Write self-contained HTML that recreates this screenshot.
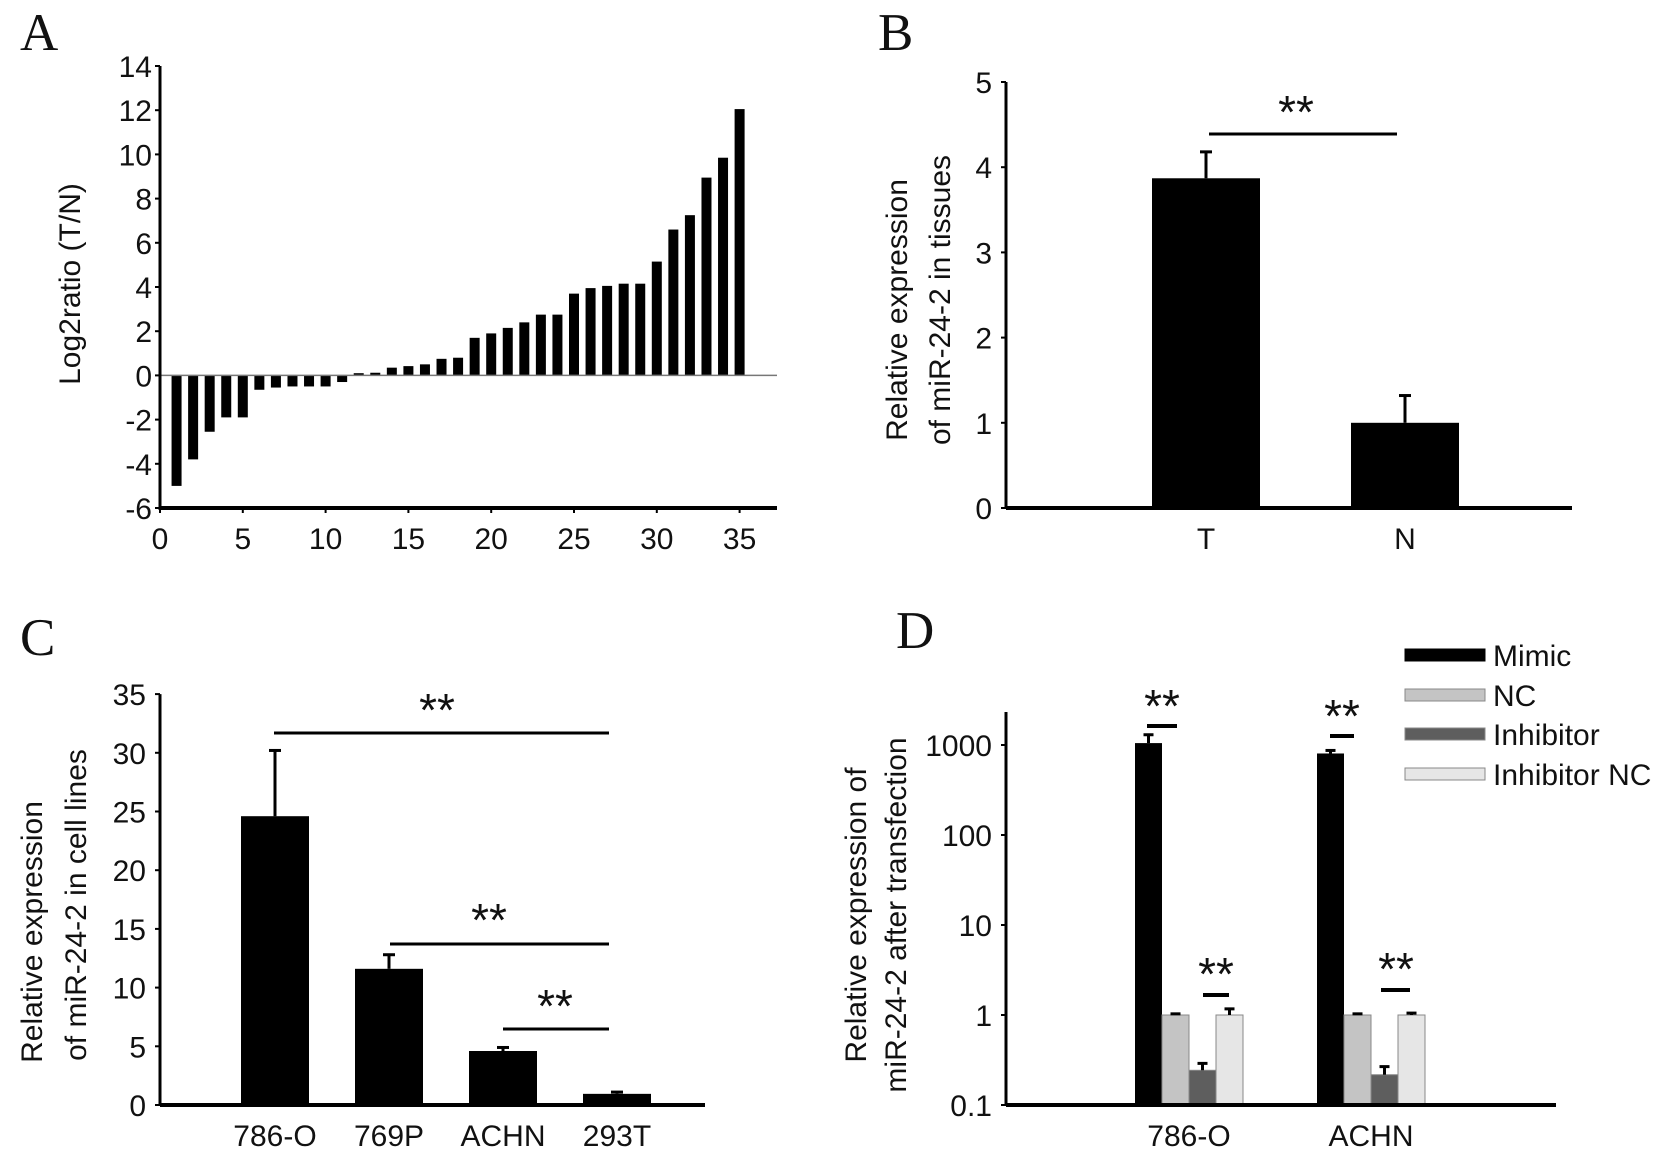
<!DOCTYPE html>
<html><head><meta charset="utf-8"><style>
html,body{margin:0;padding:0;background:#fff;}
svg{display:block;}
text{font-family:"Liberation Sans",sans-serif;fill:#111;}
.lt{font-family:"Liberation Serif",serif;font-size:53px;}
.tk{font-size:30px;}
.st{font-size:46px;}
</style></head><body>
<svg id="fig" width="1680" height="1159" viewBox="0 0 1680 1159" xmlns="http://www.w3.org/2000/svg"></svg>
<script>
// Panel A data
const aIndex = [1,2,3,4,5,6,7,8,9,10,11,12,13,14,15,16,17,18,19,20,21,22,23,24,25,26,27,28,29,30,31,32,33,34,35];
const aValues = [-5.0,-3.8,-2.55,-1.9,-1.9,-0.65,-0.55,-0.5,-0.5,-0.5,-0.3,0.1,0.12,0.35,0.42,0.5,0.75,0.8,1.7,1.9,2.15,2.4,2.75,2.75,3.7,3.95,4.05,4.15,4.15,5.15,6.6,7.25,8.95,9.85,12.05];
const aYTicks = [-6,-4,-2,0,2,4,6,8,10,12,14];
const aXTicks = [0,5,10,15,20,25,30,35];
// Panel B data
const bCats = ["T","N"];
const bValues = [3.87,1.0];
const bErrors = [0.31,0.32];
const bYTicks = [0,1,2,3,4,5];
// Panel C data
const cCats = ["786-O","769P","ACHN","293T"];
const cValues = [24.6,11.6,4.6,0.95];
const cErrors = [5.6,1.2,0.3,0.15];
const cYTicks = [0,5,10,15,20,25,30,35];
// Panel D data
const dCats = ["786-O","ACHN"];
const dSeries = ["Mimic","NC","Inhibitor","Inhibitor NC"];
const dMimic = [1050,805];
const dNC = [1.0,1.0];
const dInhibitor = [0.243,0.217];
const dInhibitorNC = [1.0,1.0];
const dMimicErr = [1300,870];
const dNCErr = [1.03,1.03];
const dInhibitorErr = [0.29,0.267];
const dInhibitorNCErr = [1.17,1.05];
const dYTicks = [0.1,1,10,100,1000];

const svg = document.getElementById('fig');
const NS = 'http://www.w3.org/2000/svg';
function el(tag, attrs, parent){const e=document.createElementNS(NS,tag);for(const k in attrs)e.setAttribute(k,attrs[k]);(parent||svg).appendChild(e);return e;}
function txt(x,y,s,cls,anchor,parent){const t=el('text',{x:x,y:y,'class':cls,'text-anchor':anchor||'middle'},parent);t.textContent=s;return t;}
function errbar(g,x,y1,y2,cap){el('line',{x1:x,x2:x,y1:y1,y2:y2,stroke:'#000','stroke-width':3},g);el('line',{x1:x-cap,x2:x+cap,y1:y2,y2:y2,stroke:'#000','stroke-width':3},g);}

// ---------- Panel A ----------
(function(){
  const g=el('g',{});
  
  
  const x0=160, ux=16.56, y0=375.4, uy=22.1;
  const X=v=>x0+v*ux, Y=v=>y0-v*uy;
  const lab=txt(20,50,'A','lt','start',g);
  
  
  aValues.forEach((v,i)=>{
    const r=el('rect',{x:X(aIndex[i])-5,y:Math.min(Y(v),Y(0)),width:10,height:Math.abs(Y(v)-Y(0)),fill:'#000'},g);
    
    
  });
  el('line',{x1:x0,x2:777,y1:Y(0),y2:Y(0),stroke:'#777','stroke-width':1.5},g);
  el('line',{x1:x0,x2:x0,y1:Y(14),y2:Y(-6)+2,stroke:'#000','stroke-width':3},g);
  el('line',{x1:x0,x2:777,y1:Y(-6),y2:Y(-6),stroke:'#000','stroke-width':4},g);
  aYTicks.forEach(t=>{el('line',{x1:x0-5,x2:x0,y1:Y(t),y2:Y(t),stroke:'#000','stroke-width':2},g);const s=txt(x0-8,Y(t)+11,String(t),'tk','end',g);});
  aXTicks.forEach(t=>{el('line',{x1:X(t),x2:X(t),y1:Y(-6),y2:Y(-6)+5,stroke:'#000','stroke-width':2},g);const s=txt(X(t),549,String(t),'tk','middle',g);});
  const yt=txt(0,0,'Log2ratio (T/N)','tk','middle',g);
  yt.setAttribute('transform','translate(80,284) rotate(-90)');
  
  
})();

// ---------- Panel B ----------
(function(){
  const g=el('g',{});
  
  
  const x0=1006, y0=508, uy=85.2, Y=v=>y0-v*uy;
  const cx=[1206,1405], bw=108;
  const lab=txt(878,50,'B','lt','start',g);
  
  
  bValues.forEach((v,i)=>{
    const r=el('rect',{x:cx[i]-bw/2,y:Y(v),width:bw,height:Y(0)-Y(v),fill:'#000'},g);
    
    
    errbar(g,cx[i],Y(v),Y(v+bErrors[i]),6);
    const s=txt(cx[i],549,bCats[i],'tk','middle',g);
    
    
  });
  el('line',{x1:x0,x2:x0,y1:Y(5),y2:Y(0),stroke:'#000','stroke-width':3},g);
  el('line',{x1:x0,x2:1572,y1:Y(0),y2:Y(0),stroke:'#000','stroke-width':4},g);
  bYTicks.forEach(t=>{el('line',{x1:x0-5,x2:x0,y1:Y(t),y2:Y(t),stroke:'#000','stroke-width':2},g);const s=txt(x0-14,Y(t)+11,String(t),'tk','end',g);});
  el('line',{x1:1209,x2:1397,y1:134,y2:134,stroke:'#000','stroke-width':3},g);
  const st=txt(1296,128,'**','st','middle',g);
  const y1=txt(0,0,'Relative expression','tk','middle',g);
  y1.setAttribute('transform','translate(907,310) rotate(-90)');
  
  
  const y2=txt(0,0,'of miR-24-2 in tissues','tk','middle',g);
  y2.setAttribute('transform','translate(950,300) rotate(-90)');
  
  
})();

// ---------- Panel C ----------
(function(){
  const g=el('g',{});
  
  
  const x0=160, y0=1105, uy=11.74, Y=v=>y0-v*uy;
  const cx=[275,389,503,617], bw=68;
  const lab=txt(20,655,'C','lt','start',g);
  
  
  cValues.forEach((v,i)=>{
    const r=el('rect',{x:cx[i]-bw/2,y:Y(v),width:bw,height:Y(0)-Y(v),fill:'#000'},g);
    
    
    errbar(g,cx[i],Y(v),Y(v+cErrors[i]),6);
    const s=txt(cx[i],1146,cCats[i],'tk','middle',g);
    
    
  });
  el('line',{x1:x0,x2:x0,y1:Y(35),y2:Y(0),stroke:'#000','stroke-width':3},g);
  el('line',{x1:x0,x2:705,y1:Y(0),y2:Y(0),stroke:'#000','stroke-width':4},g);
  cYTicks.forEach(t=>{el('line',{x1:x0-5,x2:x0,y1:Y(t),y2:Y(t),stroke:'#000','stroke-width':2},g);const s=txt(x0-14,Y(t)+11,String(t),'tk','end',g);});
  [[274,609,733,437,726],[390,609,944,489,936],[503,609,1029,555,1022]].forEach(s=>{
    el('line',{x1:s[0],x2:s[1],y1:s[2],y2:s[2],stroke:'#000','stroke-width':3},g);
    const t=txt(s[3],s[4],'**','st','middle',g);
  });
  const y1=txt(0,0,'Relative expression','tk','middle',g);
  y1.setAttribute('transform','translate(42,932) rotate(-90)');
  
  
  const y2=txt(0,0,'of miR-24-2 in cell lines','tk','middle',g);
  y2.setAttribute('transform','translate(86,905) rotate(-90)');
  
  
})();

// ---------- Panel D ----------
(function(){
  const g=el('g',{});
  
  
  const x0=1006, y0=1105, dec=90, Y=v=>y0-(Math.log10(v)+1)*dec;
  const groupStart=[1135,1317], bw=27;
  const colors=['#000','#c4c4c4','#5e5e5e','#e6e6e6'];
  const vals=[dMimic,dNC,dInhibitor,dInhibitorNC];
  const errs=[dMimicErr,dNCErr,dInhibitorErr,dInhibitorNCErr];
  const lab=txt(896,648,'D','lt','start',g);
  
  
  dCats.forEach((c,gi)=>{
    vals.forEach((arr,si)=>{
      const x=groupStart[gi]+si*bw;
      const r=el('rect',{x:x,y:Y(arr[gi]),width:bw,height:Y(0.1)-Y(arr[gi]),fill:colors[si],stroke:si===0?'#000':'#888','stroke-width':si===0?0:1},g);
      
      
      errbar(g,x+bw/2,Y(arr[gi]),Y(errs[si][gi]),5);
    });
    const s=txt(groupStart[gi]+2*bw,1146,c,'tk','middle',g);
    
    
  });
  el('line',{x1:x0,x2:x0,y1:712,y2:Y(0.1),stroke:'#000','stroke-width':3},g);
  el('line',{x1:x0,x2:1556,y1:Y(0.1),y2:Y(0.1),stroke:'#000','stroke-width':4},g);
  dYTicks.forEach(t=>{el('line',{x1:x0-5,x2:x0,y1:Y(t),y2:Y(t),stroke:'#000','stroke-width':2},g);const s=txt(x0-14,Y(t)+11,String(t),'tk','end',g);});
  [[1147,1177,726,1162,722],[1203,1229,995,1216,990],[1330,1354,736,1342,732],[1381,1410,990,1396,985]].forEach(s=>{
    el('line',{x1:s[0],x2:s[1],y1:s[2],y2:s[2],stroke:'#000','stroke-width':4},g);
    const t=txt(s[3],s[4],'**','st','middle',g);
  });
  const ly=[655,695,734,774];
  dSeries.forEach((n,i)=>{
    const lg=el('g',{},g);
    
    
    el('rect',{x:1405,y:ly[i]-6,width:80,height:12,fill:colors[i],stroke:i===0?'#000':'#888','stroke-width':1},lg);
    txt(1493,ly[i]+11,n,'tk','start',lg);
  });
  const y1=txt(0,0,'Relative expression of','tk','middle',g);
  y1.setAttribute('transform','translate(866,915) rotate(-90)');
  
  
  const y2=txt(0,0,'miR-24-2 after transfection','tk','middle',g);
  y2.setAttribute('transform','translate(906,915) rotate(-90)');
  
  
})();
</script>
</body></html>
